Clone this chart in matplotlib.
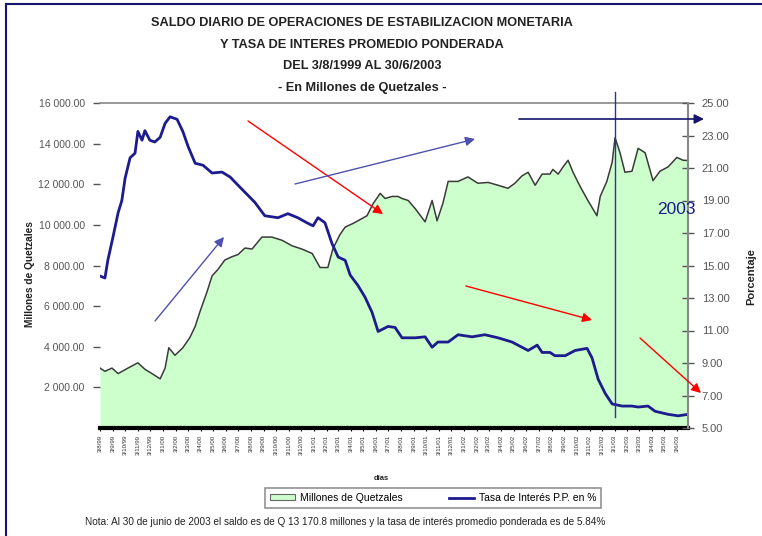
import matplotlib
matplotlib.use("Agg")
import matplotlib.pyplot as plt
import matplotlib.transforms as mtransforms
from matplotlib.patches import Patch, FancyArrowPatch
from matplotlib.lines import Line2D
from datetime import datetime, timedelta

plt.rcParams['font.family'] = ['Liberation Sans Narrow', 'Liberation Sans', 'DejaVu Sans']

INICIO = datetime(1999, 8, 3)
FIN = datetime(2003, 6, 30)

# saldo diario de OEM en millones de Q (dias contados desde 3/8/1999)
dias_saldo = [0, 12, 29, 44, 68, 92, 109, 126, 146, 158, 167, 182, 201, 218, 231, 243,
              260, 272, 286, 303, 320, 335, 352, 369, 393, 417, 442, 466, 490, 515, 534,
              553, 565, 582, 595, 612, 626, 648, 663, 680, 692, 709, 723, 733, 748, 765,
              789, 806, 818, 832, 845, 869, 893, 917, 942, 966, 990, 1007, 1024, 1039,
              1056, 1073, 1092, 1099, 1112, 1124, 1136, 1148, 1165, 1184, 1206, 1214,
              1230, 1243, 1250, 1262, 1274, 1291, 1306, 1323, 1342, 1359, 1379, 1400,
              1415, 1427]
saldo = [2950, 2790, 2950, 2680, 2950, 3210, 2890, 2680, 2420, 2950, 3950, 3580, 3950,
         4450, 5000, 5750, 6720, 7490, 7800, 8270, 8430, 8540, 8860, 8810, 9400, 9400,
         9240, 8970, 8810, 8590, 7900, 7900, 8810, 9510, 9890, 10050, 10200, 10450,
         11050, 11550, 11300, 11400, 11400, 11300, 11200, 10800, 10150, 11200, 10200,
         11050, 12140, 12140, 12360, 12050, 12090, 11950, 11800, 12050, 12410, 12590,
         11950, 12500, 12500, 12730, 12500, 12860, 13180, 12590, 11900, 11200, 10450,
         11400, 12140, 13090, 14290, 13550, 12590, 12640, 13770, 13550, 12180, 12640,
         12860, 13320, 13180, 13170]

# tasa de interes promedio ponderada en %
dias_tasa = [0, 12, 19, 32, 44, 53, 61, 73, 85, 92, 102, 109, 121, 133, 146, 158, 170,
             187, 201, 214, 231, 250, 272, 296, 316, 335, 352, 364, 376, 400, 432, 456,
             480, 502, 517, 529, 546, 563, 578, 595, 607, 626, 643, 660, 675, 699, 716,
             733, 765, 789, 806, 820, 845, 869, 903, 934, 966, 1000, 1024, 1039, 1061,
             1073, 1092, 1104, 1129, 1153, 1182, 1194, 1209, 1226, 1243, 1267, 1291,
             1306, 1330, 1347, 1379, 1403, 1427]
tasa = [14.35, 14.23, 15.32, 16.81, 18.25, 19.00, 20.38, 21.63, 21.91, 23.25, 22.71,
        23.30, 22.71, 22.60, 22.89, 23.75, 24.15, 24.00, 23.25, 22.31, 21.29, 21.17,
        20.69, 20.75, 20.44, 19.94, 19.50, 19.19, 18.88, 18.06, 17.94, 18.19, 17.94,
        17.63, 17.44, 17.94, 17.63, 16.35, 15.52, 15.32, 14.42, 13.77, 13.06, 12.13,
        10.94, 11.25, 11.19, 10.55, 10.55, 10.61, 9.97, 10.29, 10.29, 10.74, 10.61,
        10.74, 10.55, 10.29, 9.97, 9.77, 10.10, 9.65, 9.65, 9.45, 9.45, 9.77, 9.90,
        9.32, 8.00, 7.13, 6.48, 6.35, 6.35, 6.29, 6.35, 6.03, 5.84, 5.75, 5.84]

etiquetas_x = ["3/8/99", "3/9/99", "3/10/99", "3/11/99", "3/12/99",
               "3/1/00", "3/2/00", "3/3/00", "3/4/00", "3/5/00", "3/6/00",
               "3/7/00", "3/8/00", "3/9/00", "3/10/00", "3/11/00", "3/12/00",
               "3/1/01", "3/2/01", "3/3/01", "3/4/01", "3/5/01", "3/6/01",
               "3/7/01", "3/8/01", "3/9/01", "3/10/01", "3/11/01", "3/12/01",
               "3/1/02", "3/2/02", "3/3/02", "3/4/02", "3/5/02", "3/6/02",
               "3/7/02", "3/8/02", "3/9/02", "3/10/02", "3/11/02", "3/12/02",
               "3/1/03", "3/2/03", "3/3/03", "3/4/03", "3/5/03", "3/6/03"]

FECHA_2003 = datetime(2003, 1, 4)

VERDE = '#ccffcc'
AZUL = '#1c1c8e'
NAVY = '#15156e'

W, H = 762, 536
fig = plt.figure(figsize=(W / 100, H / 100), dpi=100)

def fx(px):
    return px / W

def fy(py):
    return 1 - py / H

ax = fig.add_axes([fx(100), fy(428), 588 / W, 325 / H])

x_saldo = [INICIO + timedelta(days=d) for d in dias_saldo]
x_tasa = [INICIO + timedelta(days=d) for d in dias_tasa]

ax.fill_between(x_saldo, saldo, 0, color=VERDE, lw=0)
ax.plot(x_saldo, saldo, color='#3a3a3a', lw=1.1)
ax.set_xlim(INICIO, FIN)
ax.set_ylim(0, 16000)
ax.set_yticks(range(2000, 16001, 2000))
ax.set_yticklabels([f"{v:,.2f}".replace(',', ' ') for v in range(2000, 16001, 2000)])
ax.tick_params(axis='y', labelsize=7.5, colors='#555555', length=5, width=1, pad=6)

ticks_x = [datetime.strptime(t, "%d/%m/%y") for t in etiquetas_x]
ax.set_xticks(ticks_x)
ax.set_xticklabels(etiquetas_x, rotation=90, fontsize=4.4, color='#333333')
ax.tick_params(axis='x', length=2, pad=3)

for s in ['left', 'right']:
    ax.spines[s].set_visible(False)
ax.spines['top'].set_color('#888888')
ax.spines['top'].set_linewidth(1.2)
ax.spines['bottom'].set_color('black')
ax.spines['bottom'].set_linewidth(3)

ax2 = ax.twinx()
ax2.plot(x_tasa, tasa, color=AZUL, lw=2)
ax2.set_ylim(5, 25)
ax2.set_yticks(range(5, 26, 2))
ax2.set_yticklabels([f"{v:.2f}" for v in range(5, 26, 2)])
ax2.tick_params(axis='y', labelsize=8, colors='#555555', direction='inout', length=8,
                width=1, pad=6)
for s in ['left', 'top', 'bottom']:
    ax2.spines[s].set_visible(False)
ax2.spines['right'].set_color('#888888')
ax2.spines['right'].set_linewidth(1.5)
ax2.set_xlim(INICIO, FIN)

# linea vertical del inicio de 2003
trans = mtransforms.blended_transform_factory(ax2.transData, ax2.transAxes)
ax2.plot([FECHA_2003, FECHA_2003], [1.034, 0.034], transform=trans, color='#3030a0',
         lw=1, clip_on=False)
fig.text(fx(696), fy(209), "2003", ha='right', va='center', fontsize=12.5, color=AZUL,
         family=['Liberation Sans', 'DejaVu Sans'])

# flechas del original
flechas = [((248, 121), (383, 214), 'red', 1.0),
           ((155, 321), (224, 237), '#5050b0', 1.0),
           ((295, 184), (475, 139), '#5050b0', 1.0),
           ((466, 286), (592, 320), 'red', 1.0),
           ((640, 338), (701, 393), 'red', 1.0),
           ((519, 119), (704, 119), NAVY, 1.2)]
for (x0, y0), (x1, y1), col, lw in flechas:
    fig.add_artist(FancyArrowPatch(
        (fx(x0), fy(y0)), (fx(x1), fy(y1)), transform=fig.transFigure,
        arrowstyle='-|>', mutation_scale=14, color=col, lw=lw, shrinkA=0, shrinkB=0))

# titulos
titulo = ["SALDO DIARIO DE OPERACIONES DE ESTABILIZACION MONETARIA",
          "Y TASA DE INTERES PROMEDIO PONDERADA",
          "DEL 3/8/1999 AL 30/6/2003",
          "- En Millones de Quetzales -"]
for i, linea in enumerate(titulo):
    fig.text(fx(362), fy(23 + 21.5 * i), linea, ha='center', va='center', fontsize=9.2,
             fontweight='bold', color='#222222')

fig.text(fx(30), fy(274), "Millones de Quetzales", rotation=90, ha='center',
         va='center', fontsize=7.3, fontweight='bold', color='#222222')
fig.text(fx(751), fy(277), "Porcentaje", rotation=90, ha='center', va='center',
         fontsize=8, fontweight='bold', color='#222222')
fig.text(fx(381), fy(478), "días", ha='center', va='center', fontsize=5.5,
         fontweight='bold', color='#222222')

handles = [Patch(facecolor=VERDE, edgecolor='#666666', lw=0.8),
           Line2D([], [], color=AZUL, lw=2)]
leg = fig.legend(handles, ["Millones de Quetzales", "Tasa de Interés P.P. en %"],
                 loc='center', bbox_to_anchor=(fx(433), fy(498)), ncol=2,
                 fontsize=7.5, frameon=True, fancybox=False, columnspacing=4.4,
                 handlelength=2.4, handleheight=0.5, handletextpad=0.5, borderpad=0.45,
                 borderaxespad=0)
leg.get_frame().set_edgecolor('#777777')
leg.get_frame().set_linewidth(1.2)

fig.text(fx(85), fy(522), "Nota: Al 30 de junio de 2003 el saldo es de Q 13 170.8 millones "
         "y la tasa de interés promedio ponderada es de 5.84%", ha='left', va='center',
         fontsize=7.2, color='#222222')

# borde de la diapositiva
fig.add_artist(Line2D([fx(6), fx(6)], [0, fy(4)], transform=fig.transFigure,
                      color=NAVY, lw=1.5))
fig.add_artist(Line2D([fx(6), 1], [fy(4), fy(4)], transform=fig.transFigure,
                      color=NAVY, lw=1.5))

fig.savefig("out.png", dpi=100)
